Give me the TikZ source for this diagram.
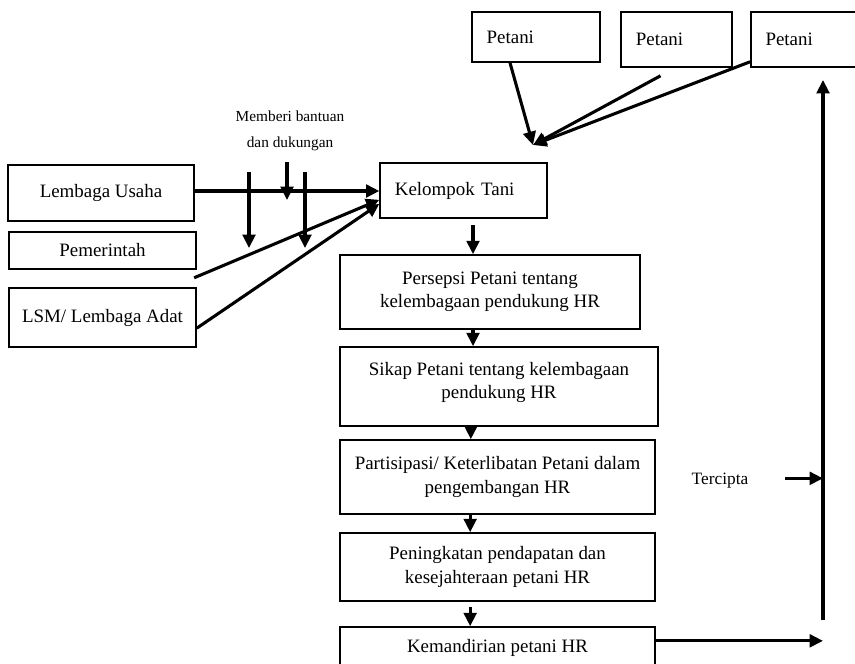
\documentclass[tikz,border=0pt]{standalone}
\usepackage{fontspec}
\setmainfont{Liberation Serif}
\usetikzlibrary{arrows.meta, positioning, calc}

\begin{document}
\begin{tikzpicture}[x=0.75pt, y=-0.75pt,
    box/.style={rectangle, draw, line width=1.2pt, inner sep=0pt, align=center,
                font=\fontsize{14.2}{17.5}\selectfont},
    leftbox/.style={box, align=left, inner xsep=11pt},
    flow/.style={-{Triangle[length=10pt, width=9.5pt]}, line width=2.3pt},
    small/.style={font=\fontsize{11.5}{20}\selectfont, align=center}]
    \useasboundingbox (0,0) rectangle (855,663);

    % TOP: FARMERS
    \node (Pet1) [leftbox, text width=74pt, minimum height=37.5pt] at (536,37) {Petani};
    \node (Pet2) [leftbox, text width=61pt, minimum height=41.25pt] at (676.5,39.5) {Petani};
    \node (Pet3) [leftbox, text width=60pt, minimum height=41.25pt] at (805.5,39.5) {Petani};
    \coordinate (Meet) at (533,145);
    \draw[flow] ([xshift=-19.5pt]Pet1.south) -- (Meet);
    \draw[flow] ([xshift=-12pt,yshift=-6pt]Pet2.south) -- (Meet);
    \draw[flow] ([yshift=4.5pt]Pet3.south west) -- (Meet);

    % LEFT: SUPPORTING INSTITUTIONS
    \node (Usaha) [box, minimum width=139.5pt, minimum height=42pt] at (101,193) {Lembaga Usaha};
    \node (Pemerintah) [box, minimum width=140.25pt, minimum height=27.75pt] at (102.5,250.5) {Pemerintah};
    \node (Lsm) [box, minimum width=140.25pt, minimum height=44.25pt] at (102.5,317.5) {LSM/ Lembaga Adat};
    \node (Kelompok) [leftbox, text width=103pt, minimum height=41.25pt] at (463.5,190.5) {Kelompok Tani};

    \draw[flow] ([yshift=1.5pt]Usaha.east) -- ([yshift=1.5pt]Usaha.east -| Kelompok.west);
    \draw[flow] ([xshift=-2pt,yshift=-6pt]Pemerintah.south east) -- ([yshift=-7pt]Kelompok.west);
    \draw[flow] ([yshift=-8pt]Lsm.east) -- ([yshift=-10pt]Kelompok.west);

    \node (Bantuan) [small] at (290,131) {Memberi bantuan\\dan dukungan};
    \coordinate (BantuA) at (249,172);
    \coordinate (BantuB) at (287,162);
    \coordinate (BantuC) at (305,172);
    \draw[flow] (BantuA) -- ++(0,76);
    \draw[flow] (BantuB) -- ++(0,38);
    \draw[flow] (BantuC) -- ++(0,76);

    % CENTRE: CHAIN OF EFFECTS
    \node (Persepsi) [box, minimum width=225pt, minimum height=55.5pt] at (490,292)
        {Persepsi Petani tentang\\kelembagaan pendukung HR};
    \node (Sikap) [box, minimum width=238.5pt, minimum height=59.25pt] at (499,386.5)
        {Sikap Petani tentang kelembagaan\\pendukung HR\\[-8pt]};
    \node (Partisipasi) [box, minimum width=236.25pt, minimum height=55.5pt] at (497.5,477)
        {Partisipasi/ Keterlibatan Petani dalam\\pengembangan HR};
    \node (Peningkatan) [box, minimum width=236.25pt, minimum height=51pt] at (497.5,567)
        {Peningkatan pendapatan dan\\kesejahteraan petani HR};
    \node (Mandiri) [box, minimum width=236.25pt, minimum height=30.75pt] at (497.5,647.5)
        {Kemandirian petani HR};

    \draw[flow, shorten <=5pt] ([xshift=-12.75pt]Persepsi.north |- Kelompok.south) -- ([xshift=-12.75pt]Persepsi.north);
    \draw[flow] ([xshift=-12.75pt]Persepsi.south) -- ([xshift=-12.75pt]Persepsi.south |- Sikap.north);
    \draw[flow, shorten <=-3pt] ([xshift=-20pt]Partisipasi.north |- Sikap.south) -- ([xshift=-20pt]Partisipasi.north);
    \draw[flow] ([xshift=-20.5pt]Partisipasi.south) -- ([xshift=-20.5pt]Peningkatan.north);
    \draw[flow, shorten <=4pt] ([xshift=-20.5pt]Peningkatan.south) -- ([xshift=-20.5pt]Mandiri.north);

    % RIGHT: FEEDBACK
    \coordinate (LineBot) at (823,620);
    \coordinate (LineTop) at (823,80);
    \draw[flow] (LineBot) -- (LineTop);
    \draw[flow] ([yshift=5pt]Mandiri.east) -- ([yshift=5pt]Mandiri.east -| LineBot);
    \node (Tercipta) [small, font=\fontsize{13}{15}\selectfont] at (720,481) {Tercipta};
    \draw[flow, shorten <=24pt] ([yshift=2pt]Tercipta.east) -- ([yshift=2pt]Tercipta.east -| LineBot);
\end{tikzpicture}
\end{document}
